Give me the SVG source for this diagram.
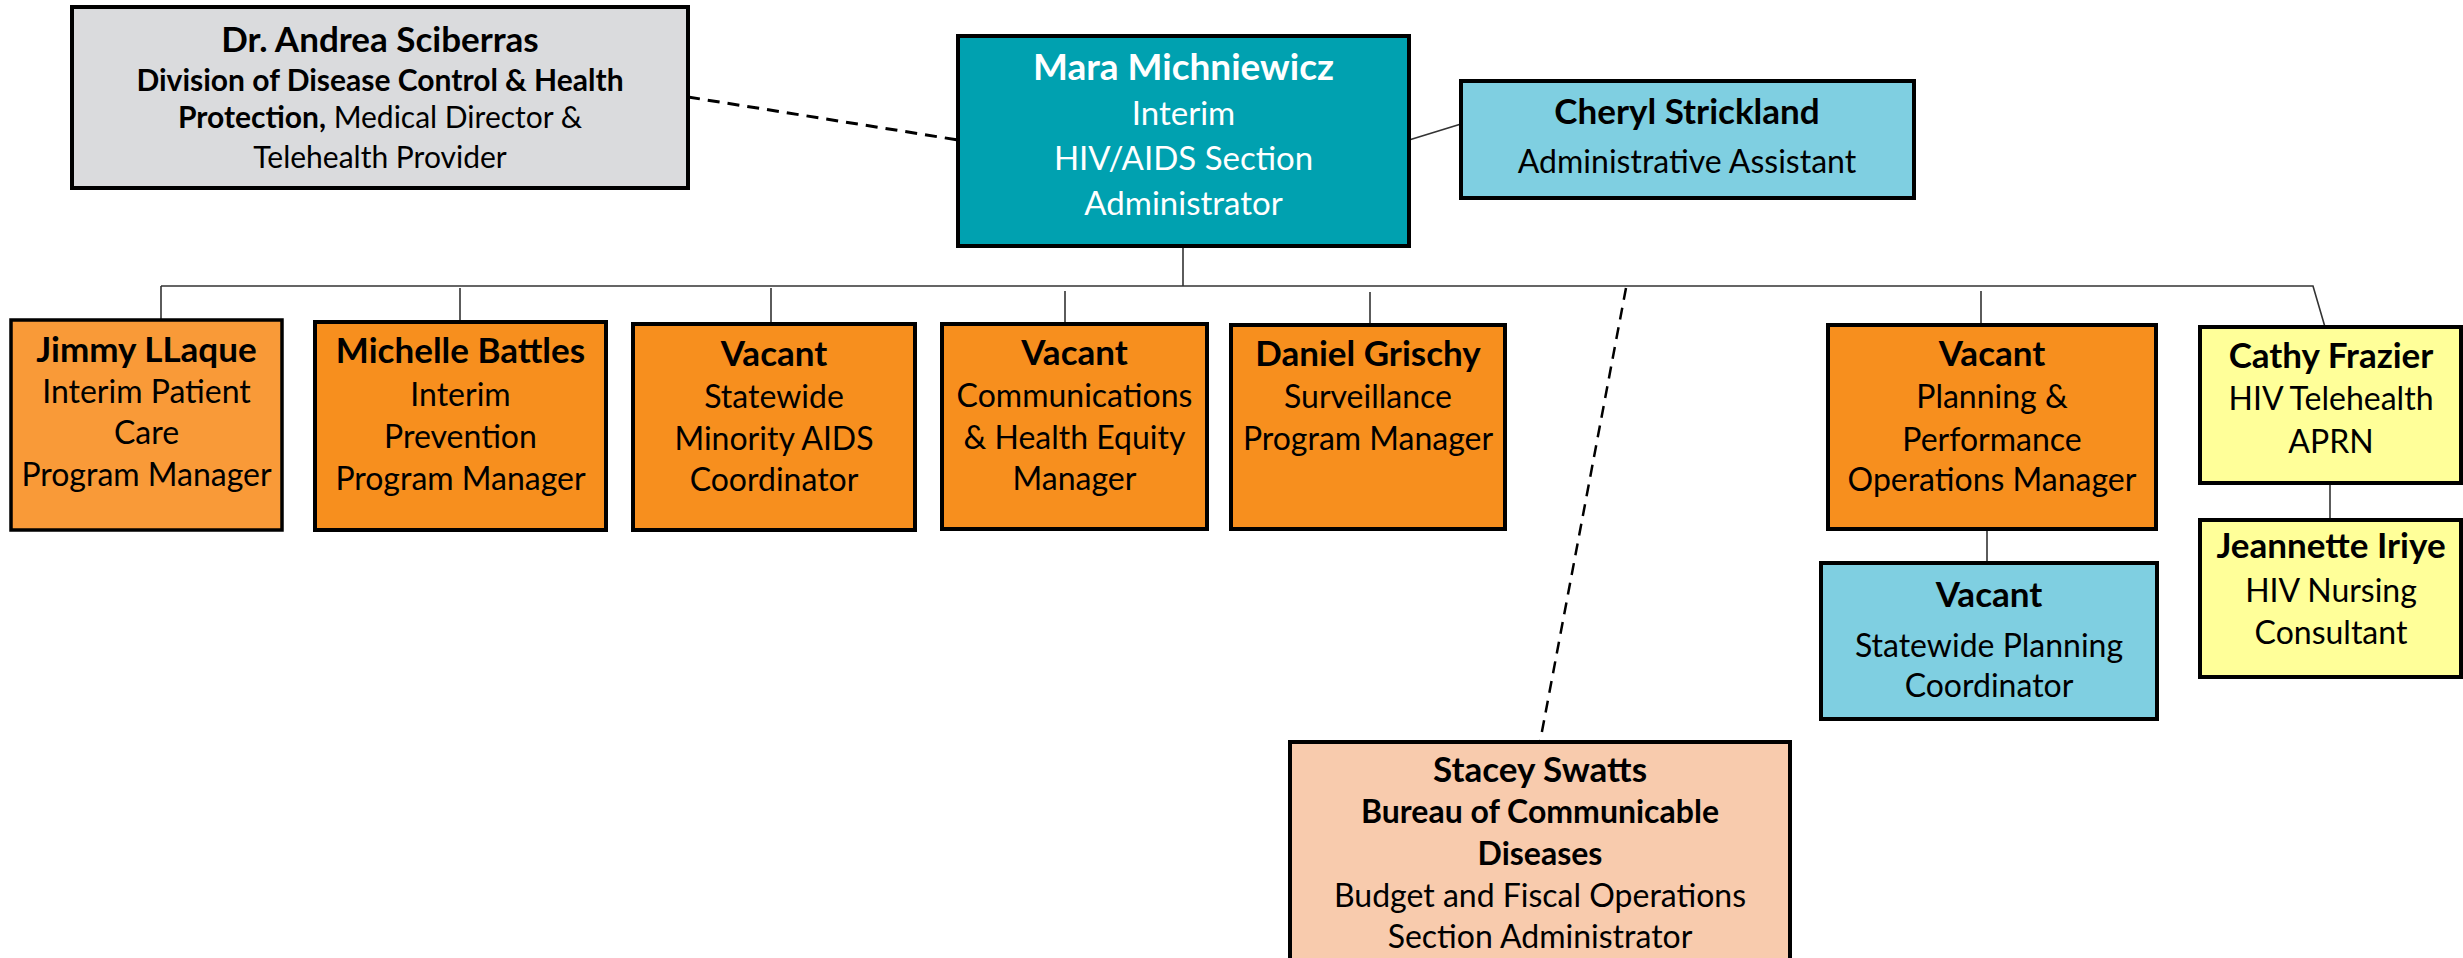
<svg xmlns="http://www.w3.org/2000/svg" width="2463" height="958" viewBox="0 0 2463 958">
<style>
  .box { stroke: #000; stroke-width: 4; }
  .gray { fill: #DADBDD; }
  .teal { fill: #00A1B0; }
  .blue { fill: #7FCFE1; }
  .orange { fill: #F78F1E; }
  .orange2 { fill: #F99A38; }
  .yellow { fill: #FFFF99; }
  .peach { fill: #F8CBAD; }
  text { font-family: Lato, "Open Sans", "Liberation Sans", sans-serif; text-anchor: middle; fill: #000; font-size: 32px; }
  .n { font-weight: bold; font-size: 35px; }
  .w { fill: #fff; }
  .big { font-size: 33px; }
  .mn { font-size: 37px; }
  .sm { font-size: 30px; }
  .line { stroke: #333; stroke-width: 1.6; fill: none; }
  .dash { stroke: #000; stroke-width: 3; fill: none; stroke-dasharray: 12 8; }
</style>
<g id="connectors">
  <line class="dash" x1="688" y1="97" x2="958" y2="140"/>
  <line class="line" x1="1409" y1="140" x2="1461" y2="124"/>
  <line class="line" x1="1183" y1="246" x2="1183" y2="286"/>
  <polyline class="line" points="161,286 2313,286 2325,327"/>
  <line class="line" x1="161" y1="286" x2="161" y2="320"/>
  <line class="line" x1="460" y1="288" x2="460" y2="322"/>
  <line class="line" x1="771" y1="288" x2="771" y2="324"/>
  <line class="line" x1="1065" y1="291" x2="1065" y2="324"/>
  <line class="line" x1="1370" y1="292" x2="1370" y2="325"/>
  <line class="line" x1="1981" y1="291" x2="1981" y2="325"/>
  <line class="dash" x1="1626" y1="288" x2="1540" y2="742" style="stroke-width:2.5"/>
  <line class="line" x1="1987" y1="529" x2="1987" y2="563"/>
  <line class="line" x1="2330" y1="483" x2="2330" y2="520"/>
</g>
<g id="andrea">
  <rect class="box gray" x="72" y="7" width="616" height="181"/>
  <text x="380" y="52" class="n">Dr. Andrea Sciberras</text>
  <text x="380" y="91" class="sm" font-weight="bold">Division of Disease Control &amp; Health</text>
  <text x="380" y="128" class="sm"><tspan font-weight="bold">Protection,</tspan> Medical Director &amp;</text>
  <text x="380" y="168" class="sm">Telehealth Provider</text>
</g>
<g id="mara">
  <rect class="box teal" x="958" y="36" width="451" height="210"/>
  <text x="1183.5" y="80" class="n w mn">Mara Michniewicz</text>
  <text x="1183.5" y="125" class="w big">Interim</text>
  <text x="1183.5" y="170" class="w big">HIV/AIDS Section</text>
  <text x="1183.5" y="215" class="w big">Administrator</text>
</g>
<g id="cheryl">
  <rect class="box blue" x="1461" y="81" width="453" height="117"/>
  <text x="1687" y="124" class="n">Cheryl Strickland</text>
  <text x="1687" y="173">Administrative Assistant</text>
</g>
<g id="jimmy">
  <rect class="box orange2" x="11" y="320" width="271" height="210" style="stroke-width:3.5"/>
  <text x="146.5" y="362" class="n">Jimmy LLaque</text>
  <text x="146.5" y="403">Interim Patient</text>
  <text x="146.5" y="444">Care</text>
  <text x="146.5" y="486">Program Manager</text>
</g>
<g id="michelle">
  <rect class="box orange" x="315" y="322" width="291" height="208"/>
  <text x="460.5" y="363" class="n">Michelle Battles</text>
  <text x="460.5" y="406">Interim</text>
  <text x="460.5" y="448">Prevention</text>
  <text x="460.5" y="490">Program Manager</text>
</g>
<g id="vacant-minority">
  <rect class="box orange" x="633" y="324" width="282" height="206"/>
  <text x="774" y="366" class="n">Vacant</text>
  <text x="774" y="408">Statewide</text>
  <text x="774" y="450">Minority AIDS</text>
  <text x="774" y="491">Coordinator</text>
</g>
<g id="vacant-comm">
  <rect class="box orange" x="942" y="324" width="265" height="205"/>
  <text x="1074.5" y="365" class="n">Vacant</text>
  <text x="1074.5" y="407">Communications</text>
  <text x="1074.5" y="449">&amp; Health Equity</text>
  <text x="1074.5" y="490">Manager</text>
</g>
<g id="daniel">
  <rect class="box orange" x="1231" y="325" width="274" height="204"/>
  <text x="1368" y="366" class="n">Daniel Grischy</text>
  <text x="1368" y="408">Surveillance</text>
  <text x="1368" y="450">Program Manager</text>
</g>
<g id="vacant-planning">
  <rect class="box orange" x="1828" y="325" width="328" height="204"/>
  <text x="1992" y="366" class="n">Vacant</text>
  <text x="1992" y="408">Planning &amp;</text>
  <text x="1992" y="451">Performance</text>
  <text x="1992" y="491">Operations Manager</text>
</g>
<g id="vacant-statewide">
  <rect class="box blue" x="1821" y="563" width="336" height="156"/>
  <text x="1989" y="607" class="n">Vacant</text>
  <text x="1989" y="657">Statewide Planning</text>
  <text x="1989" y="697">Coordinator</text>
</g>
<g id="cathy">
  <rect class="box yellow" x="2200" y="327" width="261" height="156"/>
  <text x="2331" y="368" class="n">Cathy Frazier</text>
  <text x="2331" y="410">HIV Telehealth</text>
  <text x="2331" y="453">APRN</text>
</g>
<g id="jeannette">
  <rect class="box yellow" x="2200" y="520" width="261" height="157"/>
  <text x="2331" y="558" class="n">Jeannette Iriye</text>
  <text x="2331" y="602">HIV Nursing</text>
  <text x="2331" y="644">Consultant</text>
</g>
<g id="stacey">
  <rect class="box peach" x="1290" y="742" width="500" height="240"/>
  <text x="1540" y="782" class="n">Stacey Swatts</text>
  <text x="1540" y="823" font-weight="bold">Bureau of Communicable</text>
  <text x="1540" y="865" font-weight="bold">Diseases</text>
  <text x="1540" y="907">Budget and Fiscal Operations</text>
  <text x="1540" y="948">Section Administrator</text>
</g>
</svg>
